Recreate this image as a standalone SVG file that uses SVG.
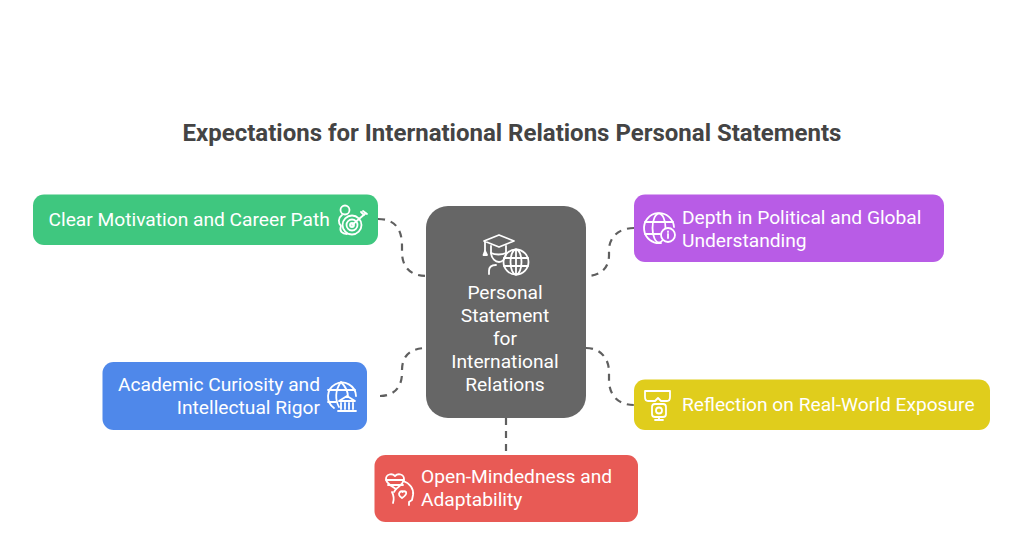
<svg xmlns="http://www.w3.org/2000/svg" width="1024" height="536" viewBox="0 0 1024 536">
<style>
text{font-family:Roboto,"Liberation Sans",sans-serif}
.t{font-size:19.2px;fill:#fff;font-weight:400}
.i{fill:none;stroke:#fff;stroke-width:1.8;stroke-linecap:round;stroke-linejoin:round}
.c{fill:none;stroke:#5f5f5f;stroke-width:2.2;stroke-dasharray:7 6}
</style>
<rect width="1024" height="536" fill="#fff"/>
<text id="title" x="512" y="141" text-anchor="middle" style="font-size:24px;font-weight:700;fill:#444">Expectations for International Relations Personal Statements</text>
<g id="connectors">
<path class="c" d="M378 219C395 219 402 229 402 246V252C402 267 410 276 427 276"/>
<path class="c" d="M634 228C618 228 609 238 609 250V255C609 267 602 276 586 276"/>
<path class="c" d="M380 396C395 396 402 386 402 373V370C402 356 410 348 427 348"/>
<path class="c" d="M586 348C600 348 609 358 609 372V380C609 395 618 405 634 405"/>
<path class="c" d="M506 418V455"/>
</g>
<g id="center">
<rect x="426" y="206" width="160" height="212" rx="22" fill="#666"/>
<g class="i">
<path d="M484 241L499 235L514 241L499 247Z"/>
<path d="M485 242V251"/><path d="M483.500 255L485 251L487 255Z"/>
<path d="M491 246V252C491 259 496 262 499 262C502 262 506 259 506 253V246"/>
<path d="M491 253C495 255 502 255 506 253"/>
<path d="M489 274V271C489 267 492 265 496 265"/>
<circle cx="516" cy="262" r="12.500"/>
<ellipse cx="516" cy="262" rx="5.500" ry="12.500"/>
<path d="M516 249.500V274.500M504 258H528M504 266H528"/>
</g>
<text class="t" text-anchor="middle"><tspan x="505" y="298.500">Personal</tspan><tspan x="505" y="321.500">Statement</tspan><tspan x="505" y="344.500">for</tspan><tspan x="505" y="367.500">International</tspan><tspan x="505" y="390.500">Relations</tspan></text>
</g>
<g id="motivation">
<rect x="33" y="194.500" width="345" height="50.500" rx="11" fill="#3fc77f"/>
<text class="t" x="48.500" y="226">Clear Motivation and Career Path</text>
<g class="i">
<circle cx="345" cy="210" r="4.500"/>
<path d="M342 215C338 218 338 223 341 226C339 231 342 234 347 234"/>
<circle cx="352" cy="225" r="9.500"/><circle cx="352" cy="225" r="5.500"/><circle cx="352" cy="225" r="2"/>
<path d="M352 225L366 213M361 212L364 215M363 211L367 214"/>
</g>
</g>
<g id="depth">
<rect x="634" y="194.500" width="310" height="67.500" rx="11" fill="#b85ce6"/>
<text class="t"><tspan x="682" y="223.500">Depth in Political and Global</tspan><tspan x="682" y="246.500">Understanding</tspan></text>
<g class="i">
<path d="M661 243A15 15 0 1 1 674 227"/>
<ellipse cx="659" cy="228" rx="6.500" ry="14.500"/>
<path d="M645 222H673M645 234H660"/>
<circle cx="668" cy="235" r="7" fill="#b85ce6"/>
<path d="M668 234V238M668 231.500V232"/>
</g>
</g>
<g id="curiosity">
<rect x="102.500" y="362" width="264.500" height="68" rx="11" fill="#4f88ea"/>
<text class="t" text-anchor="end"><tspan x="320" y="391">Academic Curiosity and</tspan><tspan x="320" y="414">Intellectual Rigor</tspan></text>
<g class="i">
<path d="M334 408A14 14 0 1 1 356 396"/>
<path d="M341 382C335 390 335 400 339 407M341 382C347 388 348 392 348 397"/>
<path d="M328 390H355M328 402H336"/>
<path d="M339 401L347 396L355 401ZM341 403V409M345 403V409M349 403V409M353 403V409M338 411H356"/>
</g>
</g>
<g id="reflection">
<rect x="634" y="379.500" width="356" height="50.500" rx="11" fill="#e0cd1c"/>
<text class="t" x="682" y="411">Reflection on Real-World Exposure</text>
<g class="i">
<path d="M645 391H670V397C670 400 669 401 667 401H661L658 398L655 401H648C646 401 645 400 645 397Z"/>
<rect x="652" y="404" width="14" height="13" rx="3"/>
<circle cx="659" cy="410.500" r="3"/>
<path d="M659 417V420M655 420H663"/>
</g>
</g>
<g id="openness">
<rect x="374.500" y="455" width="263.500" height="67" rx="11" fill="#e85a55"/>
<text class="t"><tspan x="421" y="483">Open-Mindedness and</tspan><tspan x="421" y="506">Adaptability</tspan></text>
<g class="i">
<path d="M396 489C391 486 386 483 386 479C386 474 392 473 395 476C398 473 404 474 404 479C404 483 400 486 396 489Z"/>
<path d="M386 480H404M388 485H403"/>
<path d="M396 489L394 492"/>
<path d="M403 481C410 483 414 489 413 495L412 500L409 502V505"/>
<path d="M392 492C394 496 394 500 393 503"/>
<path d="M402 498C399 496 398 494 400 492C401 491 402 491 402.500 492C403 491 405 491 406 492C407 494 405 496 402 498Z"/>
</g>
</g>
</svg>
